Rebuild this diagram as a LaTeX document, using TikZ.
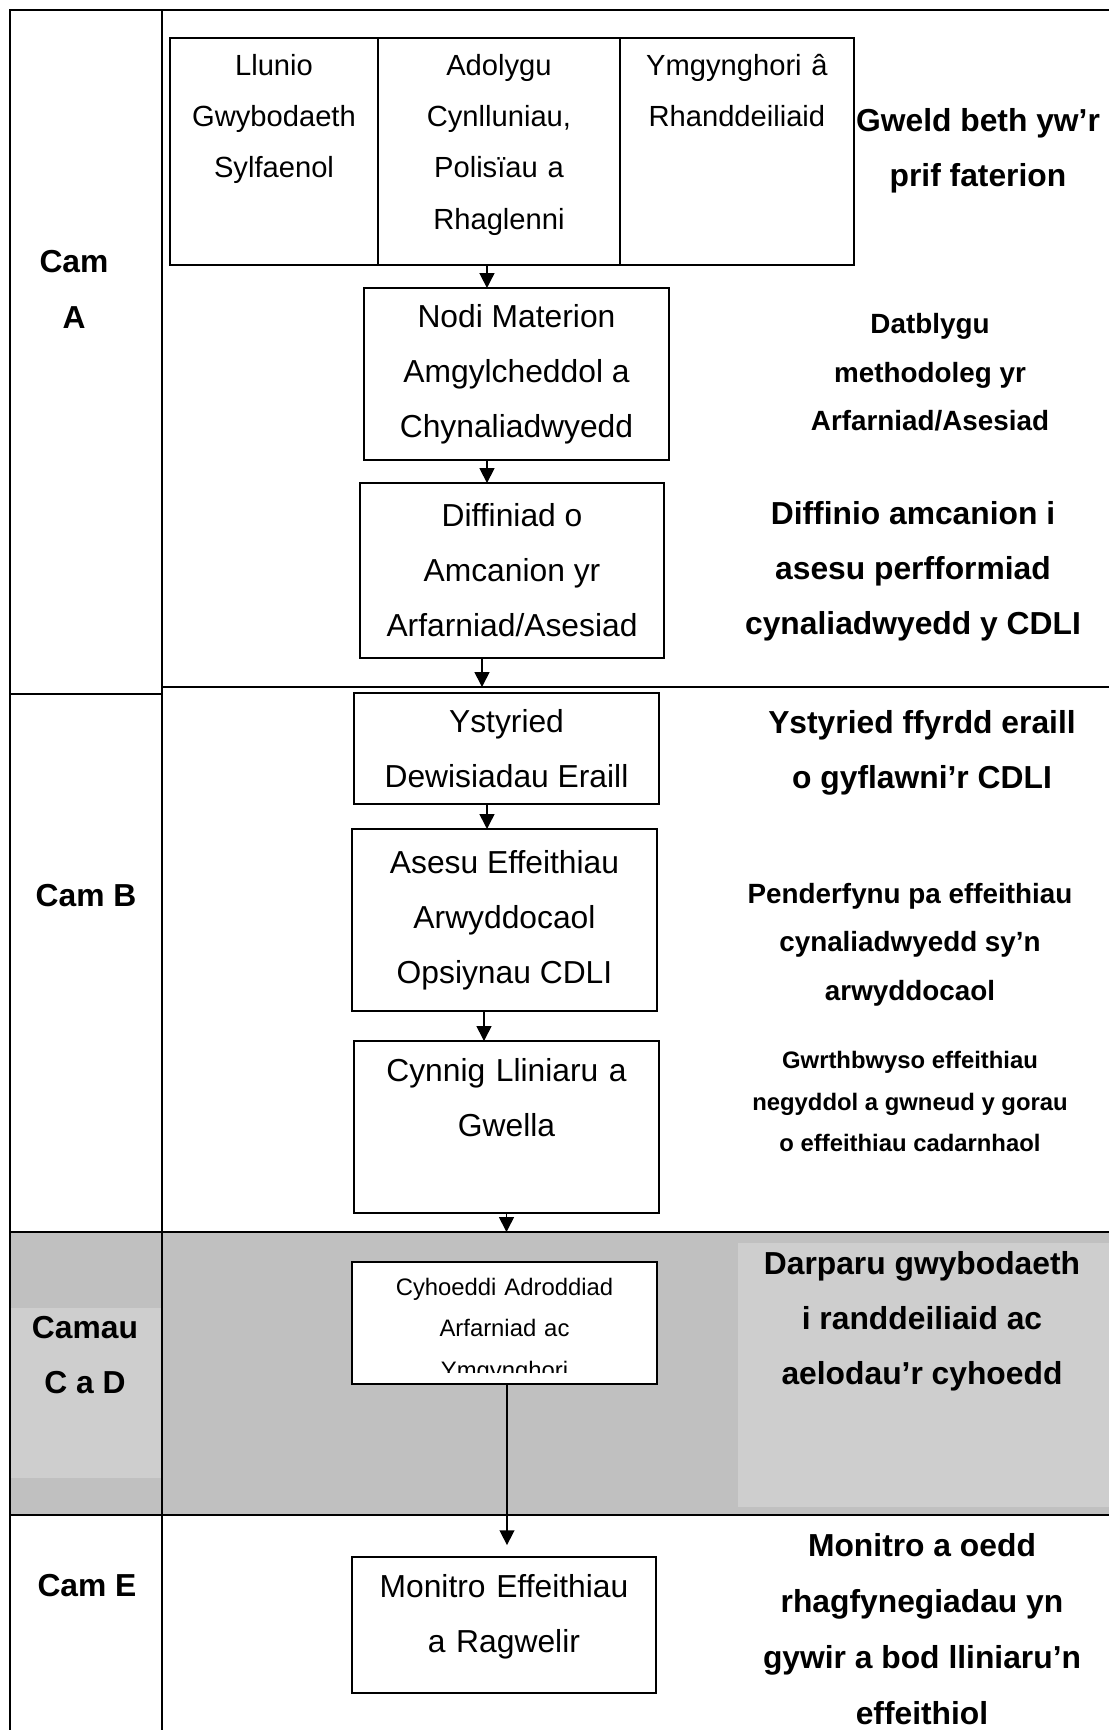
\documentclass[tikz,border=0pt]{standalone}
\usepackage{fontspec}
\setmainfont{Liberation Sans}
\usepackage{xcolor}
\usetikzlibrary{positioning,arrows.meta}

\definecolor{bandgray}{HTML}{C0C0C0}
\definecolor{patchgray}{HTML}{CECECE}

\begin{document}
\begin{tikzpicture}[
    x=0.3774pt,
    y=-0.3774pt,
    frame/.style={
        draw,
        line width=0.8pt
    },
    heavy/.style={
        draw,
        line width=1.1pt
    },
    stepbox/.style={
        rectangle,
        draw,
        fill=white,
        align=center,
        inner sep=0pt,
        outer sep=0pt,
        line width=0.8pt,
        font=\fontsize{12}{20.76}\selectfont
    },
    topbox/.style={
        stepbox,
        anchor=north west,
        font=\fontsize{11}{19.4}\selectfont,
        text height=14pt,
        text depth=71.7pt
    },
    stage/.style={
        align=center,
        inner sep=0pt,
        font=\bfseries\fontsize{12}{21.1}\selectfont
    },
    goal/.style={
        align=center,
        inner sep=0pt,
        font=\bfseries\fontsize{12}{20.8}\selectfont
    },
    goalmid/.style={
        goal,
        font=\bfseries\fontsize{10.5}{18.3}\selectfont
    },
    goalsmall/.style={
        goal,
        font=\bfseries\fontsize{9}{15.7}\selectfont
    },
    line/.style={
        draw,
        line width=0.6pt,
        -{Triangle[length=5.6pt,width=5.6pt]}
    }
]
    \useasboundingbox (0,0) rectangle (1109,1730);

    % Table
    \fill[bandgray] (10,1232) rectangle (1109,1515);
    \fill[patchgray] (10,1308) rectangle (162,1478);
    \fill[patchgray] (738,1243) rectangle (1109,1507);
    \coordinate (ab) at (162,687);
    \coordinate (bc) at (162,1232);
    \path[frame] (10,1730) -- (10,10) -- (1109,10);
    \path[frame] (162,10) -- (162,1730);
    \path[frame] (10,694) -- (162,694);
    \path[frame] (ab) -- (1109,687);
    \path[heavy] (10,1232) -- (1109,1232);
    \path[heavy] (10,1515) -- (1109,1515);

    % Steps
    \node[topbox, text width=78.5pt] (llunio) at (170,38) {Llunio\\Gwybodaeth\\Sylfaenol};
    \node[topbox, text width=91.3pt, right=0pt of llunio] (adolygu) {Adolygu\\Cynlluniau,\\Polisïau a\\Rhaglenni};
    \node[topbox, text width=88.3pt, right=0pt of adolygu] (ymgyng) {Ymgynghori â\\Rhanddeiliaid};
    \node[stepbox, minimum width=115.1pt, minimum height=64.9pt] (nodi) at (516.5,374) {Nodi Materion\\Amgylcheddol a\\Chynaliadwyedd};
    \node[stepbox, minimum width=114.7pt, minimum height=66pt] (diffin) at (512,570.5) {Diffiniad o\\Amcanion yr\\Arfarniad/Asesiad};
    \node[stepbox, minimum width=115.1pt, minimum height=41.9pt] (ystyr) at (506.5,748.5) {Ystyried\\Dewisiadau Eraill};
    \node[stepbox, minimum width=115.1pt, minimum height=68.7pt] (asesu) at (504.5,920) {Asesu Effeithiau\\Arwyddocaol\\Opsiynau CDLI};
    \node[stepbox, anchor=north west, text width=115.1pt, text height=15.3pt, text depth=49.6pt] (cynnig) at (354,1041) {Cynnig Lliniaru a\\Gwella};
    \node[stepbox, minimum width=115.1pt, minimum height=46pt] (cyhoed) at (504.5,1323) {};
    \begin{scope}
        \clip (cyhoed.north west) rectangle ([yshift=4.2pt]cyhoed.south east);
        \node[stepbox, draw=none, fill=none, anchor=north, text width=115.1pt, text height=12.5pt,
              font=\fontsize{9}{15.7}\selectfont] (cyhtext) at (cyhoed.north) {Cyhoeddi Adroddiad\\Arfarniad ac\\Ymgynghori};
    \end{scope}
    \node[stepbox, anchor=north west, text width=114.7pt, text height=15.1pt, text depth=36.2pt] (monitro) at (352,1557) {Monitro Effeithiau\\a Ragwelir};

    % Connections
    \path[line] (adolygu.south) ++(-12,0) coordinate (a1) -- (a1 |- nodi.north);
    \path[line] (nodi.south) ++(-29.5,0) coordinate (a2) -- (a2 |- diffin.north);
    \path[line] (diffin.south) ++(-30,0) coordinate (a3) -- (a3 |- ab);
    \path[line] (ystyr.south) ++(-19.5,0) coordinate (a4) -- (a4 |- asesu.north);
    \path[line] (asesu.south) ++(-20.5,0) coordinate (a5) -- (a5 |- cynnig.north);
    \path[line] (cynnig.south) -- (cynnig.south |- bc);
    \path[line, shorten >=4.5pt] (cyhoed.south) ++(2.5,0) coordinate (a7) -- (a7 |- monitro.north);

    % Stages
    \node[stage] (camA) at (74,289) {Cam\\A};
    \node[stage] (camB) at (86,896) {Cam B};
    \node[stage] (camCD) at (85,1355) {Camau\\C a D};
    \node[stage] (camE) at (87,1586) {Cam E};

    % Aims
    \node[goal] (gweld) at (978,151) {Gweld beth yw’r\\prif faterion};
    \node[goalmid] (datblygu) at (930,372.5) {Datblygu\\methodoleg yr\\Arfarniad/Asesiad};
    \node[goal] (diffamc) at (913,571) {Diffinio amcanion i\\asesu perfformiad\\cynaliadwyedd y CDLI};
    \node[goal] (ffyrdd) at (922,753) {Ystyried ffyrdd eraill\\o gyflawni’r CDLI};
    \node[goalmid] (pender) at (910,944.5) {Penderfynu pa effeithiau\\cynaliadwyedd sy’n\\arwyddocaol};
    \node[goalsmall] (gwrth) at (910,1101.5) {Gwrthbwyso effeithiau\\negyddol a gwneud y gorau\\o effeithiau cadarnhaol};
    \node[goal] (darparu) at (922,1321) {Darparu gwybodaeth\\i randdeiliaid ac\\aelodau’r cyhoedd};
    \node[goal, font=\bfseries\fontsize{12}{21.1}\selectfont] (monamc) at (922,1629) {Monitro a oedd\\rhagfynegiadau yn\\gywir a bod lliniaru’n\\effeithiol};

\end{tikzpicture}
\end{document}
